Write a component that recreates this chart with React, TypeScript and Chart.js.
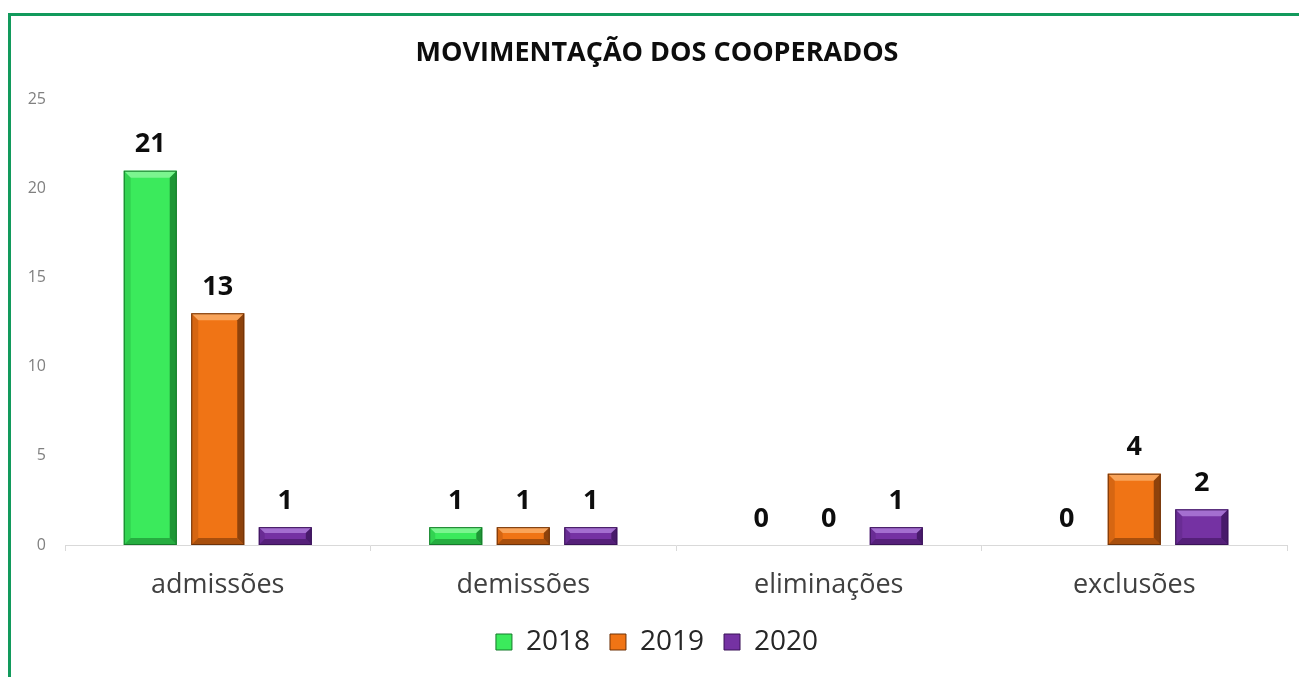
import React, { useEffect, useRef } from "react";
import { Chart, registerables } from "chart.js";

Chart.register(...registerables);

const categories = ["admissões", "demissões", "eliminações", "exclusões"];
const seriesNames = ["2018", "2019", "2020"];
const values2018 = [21, 1, 0, 0];
const values2019 = [13, 1, 0, 4];
const values2020 = [1, 1, 1, 2];
const yTicks = [0, 5, 10, 15, 20, 25];

const fills = ["#3bea5c", "#f07415", "#7532a3"];
const darks = ["#157a2a", "#6e3208", "#3a1358"];
const lights = ["#7bf58f", "#f9a45a", "#a46fd0"];

const FONT = "'Open Sans', 'DejaVu Sans', sans-serif";

const bevelPlugin = {
  id: "bevel",
  afterDatasetsDraw(chart: any) {
    const ctx = chart.ctx;
    chart.data.datasets.forEach((ds: any, di: number) => {
      const meta = chart.getDatasetMeta(di);
      meta.data.forEach((bar: any) => {
        const { x, y, base, width } = bar.getProps(["x", "y", "base", "width"], true);
        const h = base - y;
        if (h < 1) return;
        const l = x - width / 2;
        const r = x + width / 2;
        const t = y;
        const b = base;
        const s = Math.min(7, h / 3);
        ctx.save();
        ctx.fillStyle = lights[di];
        ctx.beginPath();
        ctx.moveTo(l, t); ctx.lineTo(r, t); ctx.lineTo(r - s, t + s); ctx.lineTo(l + s, t + s); ctx.closePath();
        ctx.fill();
        ctx.fillStyle = darks[di];
        ctx.globalAlpha = 0.75;
        ctx.beginPath();
        ctx.moveTo(r, t); ctx.lineTo(r, b); ctx.lineTo(r - s, b - s); ctx.lineTo(r - s, t + s); ctx.closePath();
        ctx.fill();
        ctx.globalAlpha = 0.55;
        ctx.beginPath();
        ctx.moveTo(l, b); ctx.lineTo(r, b); ctx.lineTo(r - s, b - s); ctx.lineTo(l + s, b - s); ctx.closePath();
        ctx.fill();
        ctx.globalAlpha = 0.2;
        ctx.beginPath();
        ctx.moveTo(l, t); ctx.lineTo(l, b); ctx.lineTo(l + s, b - s); ctx.lineTo(l + s, t + s); ctx.closePath();
        ctx.fill();
        ctx.globalAlpha = 1;
        ctx.strokeStyle = darks[di];
        ctx.lineWidth = 1;
        ctx.strokeRect(l + 0.5, t + 0.5, width - 1, h - 1);
        ctx.restore();
      });
    });
  },
};

const labelPlugin = {
  id: "valueLabels",
  afterDatasetsDraw(chart: any) {
    const ctx = chart.ctx;
    ctx.save();
    ctx.font = `bold 27px ${FONT}`;
    ctx.fillStyle = "#0d0d0d";
    ctx.textAlign = "center";
    ctx.textBaseline = "middle";
    chart.data.datasets.forEach((ds: any, di: number) => {
      const meta = chart.getDatasetMeta(di);
      meta.data.forEach((bar: any, i: number) => {
        const { x, y } = bar.getProps(["x", "y"], true);
        ctx.fillText(String(ds.data[i]), x, y - 26);
      });
    });
    ctx.restore();
  },
};

export default function App() {
  const ref = useRef<HTMLCanvasElement>(null);
  useEffect(() => {
    if (!ref.current) return;
    const allSeries = [values2018, values2019, values2020];
    const chart = new Chart(ref.current, {
      type: "bar",
      data: {
        labels: categories,
        datasets: allSeries.map((vals, i) => ({
          label: seriesNames[i],
          data: vals,
          backgroundColor: fills[i],
          borderColor: darks[i],
          borderWidth: 0,
          categoryPercentage: 0.663,
          barPercentage: 0.785,
        })),
      },
      options: {
        responsive: false,
        animation: false,
        layout: { padding: { left: 27, right: 12, top: 0, bottom: 11 } },
        plugins: {
          title: {
            display: true,
            text: "MOVIMENTAÇÃO DOS COOPERADOS",
            color: "#0d0d0d",
            font: { family: FONT, size: 27, weight: "bold" },
            padding: { top: 37, bottom: 30 },
          },
          legend: {
            position: "bottom",
            labels: {
              color: "#262626",
              font: { family: FONT, size: 28 },
              boxWidth: 16,
              boxHeight: 16,
              padding: 20,
              generateLabels: (c: any) =>
                c.data.datasets.map((d: any, i: number) => ({
                  text: d.label,
                  fillStyle: fills[i],
                  strokeStyle: darks[i],
                  lineWidth: 1,
                  datasetIndex: i,
                  fontColor: "#262626",
                })),
            },
          },
          tooltip: { enabled: false },
        },
        scales: {
          x: {
            afterFit: (axis: any) => {
              axis.height = 63;
              axis.paddingLeft = 0;
              axis.paddingRight = 0;
            },
            grid: {
              display: true,
              drawOnChartArea: false,
              drawTicks: true,
              tickLength: 6,
              color: "#d9d9d9",
              offset: true,
            },
            border: { display: true, color: "#d9d9d9" },
            ticks: {
              color: "#404040",
              font: { family: FONT, size: 27 },
              padding: 18,
            },
          },
          y: {
            min: 0,
            max: 25,
            afterBuildTicks: (axis: any) => {
              axis.ticks = yTicks.map((v) => ({ value: v }));
            },
            afterFit: (axis: any) => {
              axis.width = 38;
            },
            grid: { display: false, drawTicks: false },
            border: { display: false },
            ticks: {
              color: "#808080",
              font: { family: FONT, size: 16 },
              padding: 19,
            },
          },
        },
      },
      plugins: [bevelPlugin, labelPlugin],
    });
    return () => chart.destroy();
  }, []);

  return (
    <div style={{ position: "absolute", left: 0, top: 0, width: 1299, height: 677, background: "#fff", overflow: "hidden" }}>
      <div
        style={{
          position: "absolute",
          left: 8,
          top: 13,
          width: 1400,
          height: 800,
          border: "3px solid #129a5c",
          boxSizing: "border-box",
        }}
      />
      <canvas ref={ref} width={1299} height={677} style={{ position: "absolute", left: 0, top: 0 }} />
    </div>
  );
}
